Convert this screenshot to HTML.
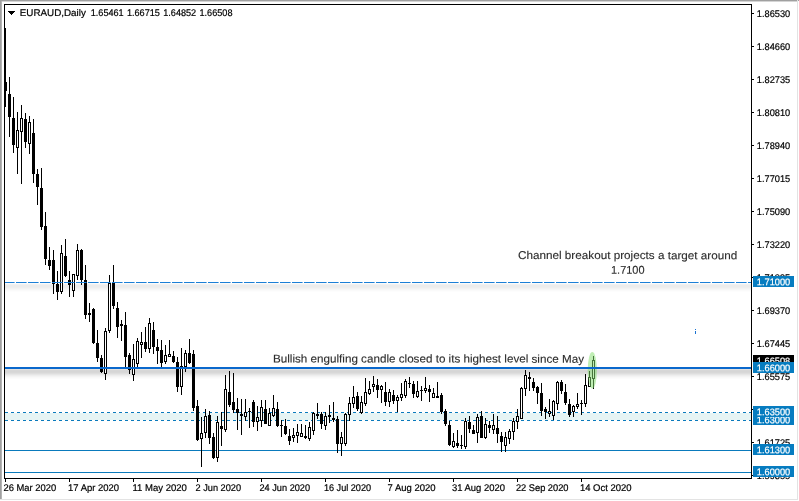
<!DOCTYPE html>
<html lang="en"><head><meta charset="utf-8"><title>EURAUD Daily</title>
<style>html,body{margin:0;padding:0;background:#fff;overflow:hidden}svg{display:block}text{font-family:"Liberation Sans","DejaVu Sans",sans-serif}.ax{font-size:9.7px;fill:#000;stroke:#000;stroke-width:.2px}.lb{font-size:9.7px;fill:#fff;stroke:#fff;stroke-width:.2px}.an{font-size:11.3px;fill:#2c2c2c;stroke:#2c2c2c;stroke-width:.12px}</style></head><body>
<svg width="799" height="501" viewBox="0 0 799 501">
<rect width="799" height="501" fill="#fff"/>
<g shape-rendering="crispEdges">
<rect x="0" y="0" width="799" height="1" fill="#a0a0a0"/><rect x="0" y="1" width="797" height="1" fill="#d4d4d4"/>
<rect x="0" y="0" width="1" height="499" fill="#a0a0a0"/><rect x="1" y="1" width="1" height="498" fill="#b4b4b4"/>
<rect x="797" y="0" width="1" height="500" fill="#e3e3e3"/><rect x="0" y="499" width="798" height="1" fill="#e3e3e3"/>
</g>
<g shape-rendering="crispEdges">
<rect x="5" y="369" width="746" height="1" fill="#e2e2e2"/>
<rect x="5" y="370" width="746" height="1" fill="#d7d7d7"/>
<rect x="5" y="371" width="746" height="1" fill="#d6d6d6"/>
<rect x="5" y="372" width="746" height="1" fill="#d8d8d8"/>
<rect x="5" y="373" width="746" height="1" fill="#dedede"/>
<rect x="5" y="374" width="746" height="1" fill="#e6e6e6"/>
<rect x="5" y="375" width="746" height="1" fill="#eeeeee"/>
<rect x="5" y="376" width="746" height="1" fill="#f4f4f4"/>
<rect x="5" y="377" width="746" height="1" fill="#f9f9f9"/>
<rect x="5" y="378" width="746" height="1" fill="#fcfcfc"/>
<rect x="5" y="283" width="746" height="1" fill="#fbfbfb"/>
<rect x="5" y="284" width="746" height="1" fill="#f1f1f1"/>
<rect x="5" y="285" width="746" height="1" fill="#ececec"/>
<rect x="5" y="286" width="746" height="1" fill="#ececec"/>
<rect x="5" y="287" width="746" height="1" fill="#eeeeee"/>
<rect x="5" y="288" width="746" height="1" fill="#f2f2f2"/>
<rect x="5" y="289" width="746" height="1" fill="#f6f6f6"/>
<rect x="5" y="290" width="746" height="1" fill="#fafafa"/>
<rect x="5" y="291" width="746" height="1" fill="#fdfdfd"/>
</g>
<g shape-rendering="crispEdges">
<rect x="5" y="413" width="746" height="7" fill="#e6f4f4"/>
<rect x="5" y="450" width="746" height="1" fill="#0a7abc"/>
<rect x="5" y="472" width="746" height="1" fill="#0a7abc"/>
</g>
<path d="M5 412.5H751M5 420.5H751" stroke="#0a7abc" stroke-width="1" stroke-dasharray="3 3" fill="none" shape-rendering="crispEdges"/>
<g shape-rendering="crispEdges" fill="#000">
<rect x="5" y="28" width="1" height="79"/>
<rect x="4" y="82" width="3" height="9"/>
<rect x="9" y="77" width="1" height="60"/>
<rect x="8" y="94" width="3" height="23"/>
<rect x="13" y="97" width="1" height="56"/>
<rect x="12" y="118" width="3" height="27"/>
<rect x="17" y="112" width="1" height="62"/>
<rect x="16" y="130" width="3" height="18"/>
<rect x="17" y="131" width="1" height="16" fill="#fff"/>
<rect x="21" y="105" width="1" height="79"/>
<rect x="20" y="118" width="3" height="14"/>
<rect x="21" y="119" width="1" height="12" fill="#fff"/>
<rect x="25" y="113" width="1" height="35"/>
<rect x="24" y="119" width="3" height="23"/>
<rect x="29" y="116" width="1" height="38"/>
<rect x="28" y="122" width="3" height="22"/>
<rect x="29" y="123" width="1" height="20" fill="#fff"/>
<rect x="33" y="119" width="1" height="64"/>
<rect x="32" y="133" width="3" height="41"/>
<rect x="37" y="169" width="1" height="36"/>
<rect x="36" y="174" width="3" height="13"/>
<rect x="41" y="168" width="1" height="62"/>
<rect x="40" y="188" width="3" height="39"/>
<rect x="45" y="212" width="1" height="53"/>
<rect x="44" y="226" width="3" height="33"/>
<rect x="49" y="247" width="1" height="23"/>
<rect x="48" y="260" width="3" height="6"/>
<rect x="53" y="250" width="1" height="44"/>
<rect x="52" y="260" width="3" height="24"/>
<rect x="57" y="271" width="1" height="29"/>
<rect x="56" y="284" width="3" height="8"/>
<rect x="61" y="245" width="1" height="49"/>
<rect x="60" y="253" width="3" height="39"/>
<rect x="61" y="254" width="1" height="37" fill="#fff"/>
<rect x="65" y="239" width="1" height="38"/>
<rect x="64" y="256" width="3" height="20"/>
<rect x="69" y="271" width="1" height="26"/>
<rect x="68" y="280" width="3" height="5"/>
<rect x="73" y="274" width="1" height="23"/>
<rect x="72" y="274" width="3" height="17"/>
<rect x="73" y="275" width="1" height="15" fill="#fff"/>
<rect x="77" y="244" width="1" height="36"/>
<rect x="76" y="250" width="3" height="26"/>
<rect x="77" y="251" width="1" height="24" fill="#fff"/>
<rect x="81" y="249" width="1" height="36"/>
<rect x="80" y="250" width="3" height="30"/>
<rect x="85" y="265" width="1" height="54"/>
<rect x="84" y="280" width="3" height="35"/>
<rect x="89" y="303" width="1" height="19"/>
<rect x="88" y="313" width="3" height="2"/>
<rect x="93" y="308" width="1" height="36"/>
<rect x="92" y="309" width="3" height="34"/>
<rect x="97" y="330" width="1" height="32"/>
<rect x="96" y="343" width="3" height="15"/>
<rect x="101" y="355" width="1" height="18"/>
<rect x="100" y="358" width="3" height="14"/>
<rect x="105" y="328" width="1" height="52"/>
<rect x="104" y="331" width="3" height="43"/>
<rect x="105" y="332" width="1" height="41" fill="#fff"/>
<rect x="109" y="275" width="1" height="58"/>
<rect x="108" y="283" width="3" height="48"/>
<rect x="109" y="284" width="1" height="46" fill="#fff"/>
<rect x="113" y="265" width="1" height="44"/>
<rect x="112" y="283" width="3" height="23"/>
<rect x="117" y="302" width="1" height="36"/>
<rect x="116" y="308" width="3" height="19"/>
<rect x="121" y="320" width="1" height="21"/>
<rect x="120" y="324" width="3" height="2"/>
<rect x="125" y="312" width="1" height="55"/>
<rect x="124" y="325" width="3" height="32"/>
<rect x="129" y="353" width="1" height="21"/>
<rect x="128" y="355" width="3" height="15"/>
<rect x="133" y="344" width="1" height="37"/>
<rect x="132" y="359" width="3" height="16"/>
<rect x="133" y="360" width="1" height="14" fill="#fff"/>
<rect x="137" y="338" width="1" height="29"/>
<rect x="136" y="341" width="3" height="23"/>
<rect x="137" y="342" width="1" height="21" fill="#fff"/>
<rect x="141" y="332" width="1" height="26"/>
<rect x="140" y="342" width="3" height="3"/>
<rect x="141" y="343" width="1" height="1" fill="#fff"/>
<rect x="145" y="327" width="1" height="25"/>
<rect x="144" y="342" width="3" height="7"/>
<rect x="149" y="318" width="1" height="35"/>
<rect x="148" y="323" width="3" height="26"/>
<rect x="149" y="324" width="1" height="24" fill="#fff"/>
<rect x="153" y="322" width="1" height="32"/>
<rect x="152" y="330" width="3" height="17"/>
<rect x="157" y="339" width="1" height="25"/>
<rect x="156" y="347" width="3" height="4"/>
<rect x="161" y="340" width="1" height="27"/>
<rect x="160" y="350" width="3" height="13"/>
<rect x="165" y="345" width="1" height="19"/>
<rect x="164" y="355" width="3" height="7"/>
<rect x="165" y="356" width="1" height="5" fill="#fff"/>
<rect x="169" y="340" width="1" height="17"/>
<rect x="168" y="354" width="3" height="3"/>
<rect x="169" y="355" width="1" height="1" fill="#fff"/>
<rect x="173" y="351" width="1" height="12"/>
<rect x="172" y="356" width="3" height="6"/>
<rect x="177" y="357" width="1" height="35"/>
<rect x="176" y="362" width="3" height="25"/>
<rect x="181" y="348" width="1" height="47"/>
<rect x="180" y="366" width="3" height="21"/>
<rect x="181" y="367" width="1" height="19" fill="#fff"/>
<rect x="185" y="350" width="1" height="22"/>
<rect x="184" y="353" width="3" height="14"/>
<rect x="185" y="354" width="1" height="12" fill="#fff"/>
<rect x="189" y="339" width="1" height="25"/>
<rect x="188" y="353" width="3" height="10"/>
<rect x="193" y="350" width="1" height="61"/>
<rect x="192" y="354" width="3" height="54"/>
<rect x="197" y="400" width="1" height="41"/>
<rect x="196" y="406" width="3" height="34"/>
<rect x="201" y="417" width="1" height="50"/>
<rect x="200" y="433" width="3" height="6"/>
<rect x="201" y="434" width="1" height="4" fill="#fff"/>
<rect x="205" y="409" width="1" height="29"/>
<rect x="204" y="416" width="3" height="17"/>
<rect x="205" y="417" width="1" height="15" fill="#fff"/>
<rect x="209" y="411" width="1" height="33"/>
<rect x="208" y="415" width="3" height="23"/>
<rect x="213" y="433" width="1" height="26"/>
<rect x="212" y="437" width="3" height="21"/>
<rect x="217" y="416" width="1" height="46"/>
<rect x="216" y="422" width="3" height="36"/>
<rect x="217" y="423" width="1" height="34" fill="#fff"/>
<rect x="221" y="412" width="1" height="34"/>
<rect x="220" y="426" width="3" height="3"/>
<rect x="225" y="375" width="1" height="57"/>
<rect x="224" y="389" width="3" height="41"/>
<rect x="225" y="390" width="1" height="39" fill="#fff"/>
<rect x="229" y="371" width="1" height="36"/>
<rect x="228" y="392" width="3" height="13"/>
<rect x="233" y="373" width="1" height="40"/>
<rect x="232" y="402" width="3" height="8"/>
<rect x="237" y="398" width="1" height="32"/>
<rect x="236" y="409" width="3" height="4"/>
<rect x="241" y="399" width="1" height="36"/>
<rect x="240" y="414" width="3" height="2"/>
<rect x="245" y="399" width="1" height="22"/>
<rect x="244" y="412" width="3" height="5"/>
<rect x="245" y="413" width="1" height="3" fill="#fff"/>
<rect x="249" y="408" width="1" height="20"/>
<rect x="248" y="411" width="3" height="1"/>
<rect x="253" y="400" width="1" height="27"/>
<rect x="252" y="402" width="3" height="20"/>
<rect x="257" y="406" width="1" height="25"/>
<rect x="256" y="417" width="3" height="5"/>
<rect x="257" y="418" width="1" height="3" fill="#fff"/>
<rect x="261" y="400" width="1" height="27"/>
<rect x="260" y="407" width="3" height="14"/>
<rect x="261" y="408" width="1" height="12" fill="#fff"/>
<rect x="265" y="400" width="1" height="24"/>
<rect x="264" y="409" width="3" height="15"/>
<rect x="269" y="408" width="1" height="18"/>
<rect x="268" y="413" width="3" height="13"/>
<rect x="269" y="414" width="1" height="11" fill="#fff"/>
<rect x="273" y="395" width="1" height="22"/>
<rect x="272" y="408" width="3" height="8"/>
<rect x="273" y="409" width="1" height="6" fill="#fff"/>
<rect x="277" y="402" width="1" height="25"/>
<rect x="276" y="409" width="3" height="17"/>
<rect x="281" y="420" width="1" height="17"/>
<rect x="280" y="425" width="3" height="1"/>
<rect x="285" y="419" width="1" height="16"/>
<rect x="284" y="426" width="3" height="8"/>
<rect x="289" y="429" width="1" height="16"/>
<rect x="288" y="436" width="3" height="5"/>
<rect x="293" y="428" width="1" height="14"/>
<rect x="292" y="435" width="3" height="3"/>
<rect x="293" y="436" width="1" height="1" fill="#fff"/>
<rect x="297" y="424" width="1" height="19"/>
<rect x="296" y="432" width="3" height="4"/>
<rect x="297" y="433" width="1" height="2" fill="#fff"/>
<rect x="301" y="424" width="1" height="13"/>
<rect x="300" y="433" width="3" height="4"/>
<rect x="301" y="434" width="1" height="2" fill="#fff"/>
<rect x="305" y="425" width="1" height="14"/>
<rect x="304" y="436" width="3" height="2"/>
<rect x="309" y="422" width="1" height="19"/>
<rect x="308" y="427" width="3" height="12"/>
<rect x="309" y="428" width="1" height="10" fill="#fff"/>
<rect x="313" y="412" width="1" height="23"/>
<rect x="312" y="413" width="3" height="18"/>
<rect x="313" y="414" width="1" height="16" fill="#fff"/>
<rect x="317" y="403" width="1" height="16"/>
<rect x="316" y="414" width="3" height="2"/>
<rect x="321" y="412" width="1" height="17"/>
<rect x="320" y="414" width="3" height="10"/>
<rect x="325" y="412" width="1" height="18"/>
<rect x="324" y="416" width="3" height="10"/>
<rect x="325" y="417" width="1" height="8" fill="#fff"/>
<rect x="329" y="405" width="1" height="18"/>
<rect x="328" y="415" width="3" height="2"/>
<rect x="333" y="402" width="1" height="20"/>
<rect x="332" y="418" width="3" height="2"/>
<rect x="337" y="416" width="1" height="37"/>
<rect x="336" y="419" width="3" height="25"/>
<rect x="341" y="432" width="1" height="24"/>
<rect x="340" y="437" width="3" height="7"/>
<rect x="341" y="438" width="1" height="5" fill="#fff"/>
<rect x="345" y="413" width="1" height="33"/>
<rect x="344" y="414" width="3" height="30"/>
<rect x="345" y="415" width="1" height="28" fill="#fff"/>
<rect x="349" y="397" width="1" height="24"/>
<rect x="348" y="403" width="3" height="12"/>
<rect x="349" y="404" width="1" height="10" fill="#fff"/>
<rect x="353" y="386" width="1" height="22"/>
<rect x="352" y="397" width="3" height="7"/>
<rect x="353" y="398" width="1" height="5" fill="#fff"/>
<rect x="357" y="392" width="1" height="19"/>
<rect x="356" y="396" width="3" height="13"/>
<rect x="361" y="396" width="1" height="18"/>
<rect x="360" y="402" width="3" height="11"/>
<rect x="361" y="403" width="1" height="9" fill="#fff"/>
<rect x="365" y="378" width="1" height="28"/>
<rect x="364" y="392" width="3" height="12"/>
<rect x="365" y="393" width="1" height="10" fill="#fff"/>
<rect x="369" y="381" width="1" height="14"/>
<rect x="368" y="389" width="3" height="5"/>
<rect x="369" y="390" width="1" height="3" fill="#fff"/>
<rect x="373" y="376" width="1" height="16"/>
<rect x="372" y="384" width="3" height="3"/>
<rect x="373" y="385" width="1" height="1" fill="#fff"/>
<rect x="377" y="379" width="1" height="19"/>
<rect x="376" y="385" width="3" height="5"/>
<rect x="381" y="385" width="1" height="18"/>
<rect x="380" y="386" width="3" height="4"/>
<rect x="381" y="387" width="1" height="2" fill="#fff"/>
<rect x="385" y="382" width="1" height="24"/>
<rect x="384" y="392" width="3" height="10"/>
<rect x="389" y="389" width="1" height="18"/>
<rect x="388" y="392" width="3" height="10"/>
<rect x="389" y="393" width="1" height="8" fill="#fff"/>
<rect x="393" y="390" width="1" height="14"/>
<rect x="392" y="395" width="3" height="6"/>
<rect x="397" y="395" width="1" height="17"/>
<rect x="396" y="397" width="3" height="4"/>
<rect x="397" y="398" width="1" height="2" fill="#fff"/>
<rect x="401" y="383" width="1" height="18"/>
<rect x="400" y="394" width="3" height="4"/>
<rect x="401" y="395" width="1" height="2" fill="#fff"/>
<rect x="405" y="379" width="1" height="19"/>
<rect x="404" y="381" width="3" height="15"/>
<rect x="405" y="382" width="1" height="13" fill="#fff"/>
<rect x="409" y="377" width="1" height="11"/>
<rect x="408" y="383" width="3" height="1"/>
<rect x="413" y="381" width="1" height="17"/>
<rect x="412" y="384" width="3" height="10"/>
<rect x="417" y="381" width="1" height="17"/>
<rect x="416" y="391" width="3" height="6"/>
<rect x="417" y="392" width="1" height="4" fill="#fff"/>
<rect x="421" y="386" width="1" height="15"/>
<rect x="420" y="390" width="3" height="1"/>
<rect x="425" y="377" width="1" height="16"/>
<rect x="424" y="388" width="3" height="3"/>
<rect x="425" y="389" width="1" height="1" fill="#fff"/>
<rect x="429" y="385" width="1" height="17"/>
<rect x="428" y="389" width="3" height="3"/>
<rect x="433" y="388" width="1" height="10"/>
<rect x="432" y="393" width="3" height="5"/>
<rect x="433" y="394" width="1" height="3" fill="#fff"/>
<rect x="437" y="382" width="1" height="16"/>
<rect x="436" y="396" width="3" height="2"/>
<rect x="441" y="393" width="1" height="21"/>
<rect x="440" y="395" width="3" height="17"/>
<rect x="445" y="409" width="1" height="17"/>
<rect x="444" y="411" width="3" height="13"/>
<rect x="449" y="421" width="1" height="25"/>
<rect x="448" y="425" width="3" height="20"/>
<rect x="453" y="433" width="1" height="15"/>
<rect x="452" y="441" width="3" height="6"/>
<rect x="453" y="442" width="1" height="4" fill="#fff"/>
<rect x="457" y="430" width="1" height="18"/>
<rect x="456" y="443" width="3" height="3"/>
<rect x="461" y="435" width="1" height="14"/>
<rect x="460" y="445" width="3" height="1"/>
<rect x="465" y="418" width="1" height="31"/>
<rect x="464" y="421" width="3" height="26"/>
<rect x="465" y="422" width="1" height="24" fill="#fff"/>
<rect x="469" y="416" width="1" height="17"/>
<rect x="468" y="422" width="3" height="7"/>
<rect x="473" y="425" width="1" height="9"/>
<rect x="472" y="430" width="3" height="4"/>
<rect x="477" y="414" width="1" height="29"/>
<rect x="476" y="417" width="3" height="16"/>
<rect x="477" y="418" width="1" height="14" fill="#fff"/>
<rect x="481" y="411" width="1" height="27"/>
<rect x="480" y="416" width="3" height="22"/>
<rect x="485" y="418" width="1" height="21"/>
<rect x="484" y="424" width="3" height="14"/>
<rect x="485" y="425" width="1" height="12" fill="#fff"/>
<rect x="489" y="421" width="1" height="12"/>
<rect x="488" y="425" width="3" height="3"/>
<rect x="493" y="414" width="1" height="20"/>
<rect x="492" y="425" width="3" height="5"/>
<rect x="493" y="426" width="1" height="3" fill="#fff"/>
<rect x="497" y="416" width="1" height="27"/>
<rect x="496" y="428" width="3" height="6"/>
<rect x="501" y="432" width="1" height="20"/>
<rect x="500" y="436" width="3" height="6"/>
<rect x="505" y="432" width="1" height="20"/>
<rect x="504" y="437" width="3" height="9"/>
<rect x="505" y="438" width="1" height="7" fill="#fff"/>
<rect x="509" y="429" width="1" height="15"/>
<rect x="508" y="431" width="3" height="8"/>
<rect x="509" y="432" width="1" height="6" fill="#fff"/>
<rect x="513" y="418" width="1" height="22"/>
<rect x="512" y="421" width="3" height="11"/>
<rect x="513" y="422" width="1" height="9" fill="#fff"/>
<rect x="517" y="409" width="1" height="20"/>
<rect x="516" y="416" width="3" height="6"/>
<rect x="517" y="417" width="1" height="4" fill="#fff"/>
<rect x="521" y="387" width="1" height="32"/>
<rect x="520" y="388" width="3" height="31"/>
<rect x="521" y="389" width="1" height="29" fill="#fff"/>
<rect x="525" y="370" width="1" height="26"/>
<rect x="524" y="375" width="3" height="14"/>
<rect x="525" y="376" width="1" height="12" fill="#fff"/>
<rect x="529" y="372" width="1" height="19"/>
<rect x="528" y="377" width="3" height="2"/>
<rect x="533" y="378" width="1" height="13"/>
<rect x="532" y="382" width="3" height="6"/>
<rect x="537" y="386" width="1" height="18"/>
<rect x="536" y="387" width="3" height="6"/>
<rect x="541" y="383" width="1" height="33"/>
<rect x="540" y="393" width="3" height="18"/>
<rect x="545" y="407" width="1" height="12"/>
<rect x="544" y="409" width="3" height="3"/>
<rect x="549" y="399" width="1" height="18"/>
<rect x="548" y="411" width="3" height="3"/>
<rect x="549" y="412" width="1" height="1" fill="#fff"/>
<rect x="553" y="400" width="1" height="20"/>
<rect x="552" y="401" width="3" height="15"/>
<rect x="553" y="402" width="1" height="13" fill="#fff"/>
<rect x="557" y="381" width="1" height="29"/>
<rect x="556" y="382" width="3" height="22"/>
<rect x="557" y="383" width="1" height="20" fill="#fff"/>
<rect x="561" y="380" width="1" height="14"/>
<rect x="560" y="382" width="3" height="9"/>
<rect x="565" y="384" width="1" height="21"/>
<rect x="564" y="392" width="3" height="11"/>
<rect x="569" y="399" width="1" height="18"/>
<rect x="568" y="404" width="3" height="11"/>
<rect x="573" y="405" width="1" height="12"/>
<rect x="572" y="406" width="3" height="6"/>
<rect x="573" y="407" width="1" height="4" fill="#fff"/>
<rect x="577" y="393" width="1" height="16"/>
<rect x="576" y="404" width="3" height="3"/>
<rect x="577" y="405" width="1" height="1" fill="#fff"/>
<rect x="581" y="400" width="1" height="15"/>
<rect x="580" y="403" width="3" height="1"/>
<rect x="585" y="374" width="1" height="33"/>
<rect x="584" y="385" width="3" height="19"/>
<rect x="585" y="386" width="1" height="17" fill="#fff"/>
<rect x="589" y="371" width="1" height="16"/>
<rect x="588" y="377" width="3" height="10"/>
<rect x="589" y="378" width="1" height="8" fill="#fff"/>
<rect x="593" y="356" width="1" height="33"/>
<rect x="592" y="360" width="3" height="19"/>
<rect x="593" y="361" width="1" height="17" fill="#fff"/>
</g>
<ellipse cx="592.3" cy="370.3" rx="4.6" ry="18.4" fill="#86de72" fill-opacity="0.52"/>
<path d="M4 282.5H751" stroke="#1c7fd6" stroke-width="1" stroke-dasharray="10.6 1.4" fill="none"/>
<rect x="5" y="367" width="746" height="2" fill="#0a68cc" shape-rendering="crispEdges"/>
<g shape-rendering="crispEdges" fill="#000">
<rect x="4" y="4" width="748" height="1"/><rect x="4" y="478" width="748" height="1"/>
<rect x="4" y="4" width="1" height="475"/><rect x="751" y="4" width="1" height="475"/>
<rect x="752" y="13" width="2" height="1"/>
<rect x="752" y="46" width="2" height="1"/>
<rect x="752" y="79" width="2" height="1"/>
<rect x="752" y="112" width="2" height="1"/>
<rect x="752" y="145" width="2" height="1"/>
<rect x="752" y="178" width="2" height="1"/>
<rect x="752" y="211" width="2" height="1"/>
<rect x="752" y="244" width="2" height="1"/>
<rect x="752" y="277" width="2" height="1"/>
<rect x="752" y="310" width="2" height="1"/>
<rect x="752" y="343" width="2" height="1"/>
<rect x="752" y="376" width="2" height="1"/>
<rect x="752" y="409" width="2" height="1"/>
<rect x="752" y="442" width="2" height="1"/>
<rect x="752" y="475" width="2" height="1"/>
<rect x="5" y="479" width="1" height="3"/>
<rect x="69" y="479" width="1" height="3"/>
<rect x="133" y="479" width="1" height="3"/>
<rect x="197" y="479" width="1" height="3"/>
<rect x="261" y="479" width="1" height="3"/>
<rect x="325" y="479" width="1" height="3"/>
<rect x="389" y="479" width="1" height="3"/>
<rect x="453" y="479" width="1" height="3"/>
<rect x="517" y="479" width="1" height="3"/>
<rect x="581" y="479" width="1" height="3"/>
<rect x="8" y="11" width="7" height="1"/><rect x="9" y="12" width="5" height="1"/><rect x="10" y="13" width="3" height="1"/><rect x="11" y="14" width="1" height="1"/>
</g>
<text class="ax" transform="translate(756.8,17) rotate(0.05)" textLength="33.4" lengthAdjust="spacingAndGlyphs">1.86530</text>
<text class="ax" transform="translate(756.8,50) rotate(0.05)" textLength="33.4" lengthAdjust="spacingAndGlyphs">1.84660</text>
<text class="ax" transform="translate(756.8,83) rotate(0.05)" textLength="33.4" lengthAdjust="spacingAndGlyphs">1.82735</text>
<text class="ax" transform="translate(756.8,116) rotate(0.05)" textLength="33.4" lengthAdjust="spacingAndGlyphs">1.80810</text>
<text class="ax" transform="translate(756.8,149) rotate(0.05)" textLength="33.4" lengthAdjust="spacingAndGlyphs">1.78940</text>
<text class="ax" transform="translate(756.8,182) rotate(0.05)" textLength="33.4" lengthAdjust="spacingAndGlyphs">1.77015</text>
<text class="ax" transform="translate(756.8,215) rotate(0.05)" textLength="33.4" lengthAdjust="spacingAndGlyphs">1.75090</text>
<text class="ax" transform="translate(756.8,248) rotate(0.05)" textLength="33.4" lengthAdjust="spacingAndGlyphs">1.73220</text>
<text class="ax" transform="translate(756.8,281) rotate(0.05)" textLength="33.4" lengthAdjust="spacingAndGlyphs">1.71295</text>
<text class="ax" transform="translate(756.8,314) rotate(0.05)" textLength="33.4" lengthAdjust="spacingAndGlyphs">1.69370</text>
<text class="ax" transform="translate(756.8,347) rotate(0.05)" textLength="33.4" lengthAdjust="spacingAndGlyphs">1.67445</text>
<text class="ax" transform="translate(756.8,380) rotate(0.05)" textLength="33.4" lengthAdjust="spacingAndGlyphs">1.65575</text>
<text class="ax" transform="translate(756.8,413) rotate(0.05)" textLength="33.4" lengthAdjust="spacingAndGlyphs">1.63650</text>
<text class="ax" transform="translate(756.8,446) rotate(0.05)" textLength="33.4" lengthAdjust="spacingAndGlyphs">1.61725</text>
<text class="ax" transform="translate(756.8,479) rotate(0.05)" textLength="33.4" lengthAdjust="spacingAndGlyphs">1.59855</text>
<text class="ax" transform="translate(3.5,491) rotate(0.05)" textLength="52.6" lengthAdjust="spacingAndGlyphs">26 Mar 2020</text>
<text class="ax" transform="translate(68.1,491) rotate(0.05)" textLength="51" lengthAdjust="spacingAndGlyphs">17 Apr 2020</text>
<text class="ax" transform="translate(132.5,491) rotate(0.05)" textLength="54.4" lengthAdjust="spacingAndGlyphs">11 May 2020</text>
<text class="ax" transform="translate(195.5,491) rotate(0.05)" textLength="45.6" lengthAdjust="spacingAndGlyphs">2 Jun 2020</text>
<text class="ax" transform="translate(259.5,491) rotate(0.05)" textLength="50.6" lengthAdjust="spacingAndGlyphs">24 Jun 2020</text>
<text class="ax" transform="translate(323.9,491) rotate(0.05)" textLength="47.2" lengthAdjust="spacingAndGlyphs">16 Jul 2020</text>
<text class="ax" transform="translate(387.5,491) rotate(0.05)" textLength="48" lengthAdjust="spacingAndGlyphs">7 Aug 2020</text>
<text class="ax" transform="translate(451.9,491) rotate(0.05)" textLength="53" lengthAdjust="spacingAndGlyphs">31 Aug 2020</text>
<text class="ax" transform="translate(515.9,491) rotate(0.05)" textLength="52.6" lengthAdjust="spacingAndGlyphs">22 Sep 2020</text>
<text class="ax" transform="translate(579.9,491) rotate(0.05)" textLength="51.6" lengthAdjust="spacingAndGlyphs">14 Oct 2020</text>
<rect x="753" y="276" width="41" height="11" fill="#067cc0" shape-rendering="crispEdges"/>
<text class="lb" transform="translate(756.8,285.2) rotate(0.05)" textLength="33.4" lengthAdjust="spacingAndGlyphs">1.71000</text>
<rect x="753" y="355" width="41" height="11" fill="#000" shape-rendering="crispEdges"/>
<text class="lb" transform="translate(756.8,364.2) rotate(0.05)" textLength="33.4" lengthAdjust="spacingAndGlyphs">1.66508</text>
<rect x="753" y="362" width="41" height="11" fill="#067cc0" shape-rendering="crispEdges"/>
<text class="lb" transform="translate(756.8,371.2) rotate(0.05)" textLength="33.4" lengthAdjust="spacingAndGlyphs">1.66000</text>
<rect x="753" y="414" width="41" height="11" fill="#067cc0" shape-rendering="crispEdges"/>
<text class="lb" transform="translate(756.8,423.2) rotate(0.05)" textLength="33.4" lengthAdjust="spacingAndGlyphs">1.63000</text>
<rect x="753" y="406" width="41" height="11" fill="#067cc0" shape-rendering="crispEdges"/>
<text class="lb" transform="translate(756.8,415.2) rotate(0.05)" textLength="33.4" lengthAdjust="spacingAndGlyphs">1.63500</text>
<rect x="753" y="444" width="41" height="11" fill="#067cc0" shape-rendering="crispEdges"/>
<text class="lb" transform="translate(756.8,453.2) rotate(0.05)" textLength="33.4" lengthAdjust="spacingAndGlyphs">1.61300</text>
<rect x="753" y="466" width="41" height="11" fill="#067cc0" shape-rendering="crispEdges"/>
<text class="lb" transform="translate(756.8,475.2) rotate(0.05)" textLength="33.4" lengthAdjust="spacingAndGlyphs">1.60000</text>
<text class="ax" transform="translate(19.8,16) rotate(0.05)" textLength="66" lengthAdjust="spacingAndGlyphs">EURAUD,Daily</text>
<text class="ax" transform="translate(90.7,16) rotate(0.05)" textLength="33" lengthAdjust="spacingAndGlyphs">1.65461</text>
<text class="ax" transform="translate(126.9,16) rotate(0.05)" textLength="33" lengthAdjust="spacingAndGlyphs">1.66715</text>
<text class="ax" transform="translate(163.2,16) rotate(0.05)" textLength="33" lengthAdjust="spacingAndGlyphs">1.64852</text>
<text class="ax" transform="translate(199.5,16) rotate(0.05)" textLength="33" lengthAdjust="spacingAndGlyphs">1.66508</text>
<text class="an" transform="translate(518,259) rotate(0.05)" textLength="219.3" lengthAdjust="spacingAndGlyphs">Channel breakout projects a target around</text>
<text class="an" transform="translate(611,273.7) rotate(0.05)" textLength="33.5" lengthAdjust="spacingAndGlyphs">1.7100</text>
<text class="an" transform="translate(273,362.4) rotate(0.05)" textLength="311" lengthAdjust="spacingAndGlyphs">Bullish engulfing candle closed to its highest level since May</text>
<g fill="#1a73d2" shape-rendering="crispEdges"><rect x="695" y="329" width="1" height="1"/><rect x="695" y="331" width="1" height="3"/></g>
</svg></body></html>
